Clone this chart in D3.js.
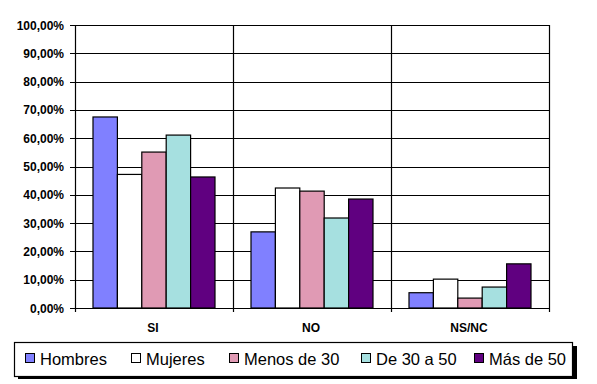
<!DOCTYPE html>
<html>
<head>
<meta charset="utf-8">
<script src="https://cdn.jsdelivr.net/npm/d3@7"></script>
<style>
  body { margin: 0; background: #fff; }
  svg { display: block; }
</style>
</head>
<body>
<script>
'use strict';
let categories = ["SI", "NO", "NS/NC"];
let series = ["Hombres", "Mujeres", "Menos de 30", "De 30 a 50", "Más de 50"];
let hombres = [67.5, 26.9, 5.4];
let mujeres = [47.2, 42.4, 10.2];
let menos30 = [55.1, 41.3, 3.5];
let de30a50 = [61.1, 31.8, 7.4];
let mas50 = [46.3, 38.5, 15.6];
let yTicks = [0, 10, 20, 30, 40, 50, 60, 70, 80, 90, 100];
let colors = ["#8080ff", "#ffffff", "#e09ab4", "#a6e0e0", "#600080"];

let values = [hombres, mujeres, menos30, de30a50, mas50];

let svg = d3.select("body").append("svg")
	.attr("width", 597)
	.attr("height", 384);

let plotLeft = 75, plotRight = 549, plotTop = 25, plotBottom = 308;

let x = d3.scaleBand().domain(categories).range([plotLeft, plotRight]);
let xs = d3.scaleBand().domain(series).range([18, x.bandwidth() - 18]);
let y = d3.scaleLinear().domain([0, 100]).range([plotBottom, plotTop]);

// horizontal gridlines with ticks
svg.selectAll("line.grid")
	.data(yTicks)
	.enter().append("line")
		.attr("x1", plotLeft - 5)
		.attr("x2", plotRight)
		.attr("y1", function(d){return Math.round(y(d)) + 0.5;})
		.attr("y2", function(d){return Math.round(y(d)) + 0.5;})
		.attr("stroke", "#000")
		.attr("stroke-width", 1.2);

// vertical separators
svg.selectAll("line.sep")
	.data([plotLeft, x("NO"), x("NS/NC"), plotRight])
	.enter().append("line")
		.attr("x1", function(d){return Math.round(d) + 0.5;})
		.attr("x2", function(d){return Math.round(d) + 0.5;})
		.attr("y1", plotTop)
		.attr("y2", plotBottom + 4)
		.attr("stroke", "#000")
		.attr("stroke-width", 1.2);

svg.selectAll("text.ylab")
	.data(yTicks)
	.enter().append("text")
		.attr("x", 64)
		.attr("y", function(d){return y(d) + 4.5;})
		.attr("text-anchor", "end")
		.attr("font-family", "Liberation Sans, Arial, sans-serif")
		.attr("font-weight", "bold")
		.attr("font-size", "12px")
		.text(function(d){return d3.format(".2f")(d).replace(".", ",") + "%";});

// bars
series.forEach(function(s, si){
	svg.selectAll("rect.s" + si)
		.data(values[si])
		.enter().append("rect")
			.attr("x", function(d,i){return x(categories[i]) + xs(s);})
			.attr("y", function(d){return y(d);})
			.attr("width", xs.bandwidth())
			.attr("height", function(d){return plotBottom - y(d);})
			.attr("fill", colors[si])
			.attr("stroke", "#000")
			.attr("stroke-width", 1.2);
});

svg.selectAll("text.xlab")
	.data(categories)
	.enter().append("text")
		.attr("x", function(d){return x(d) + x.bandwidth() / 2 - 1;})
		.attr("y", 332)
		.attr("text-anchor", "middle")
		.attr("font-family", "Liberation Sans, Arial, sans-serif")
		.attr("font-weight", "bold")
		.attr("font-size", "12px")
		.text(function(d){return d;});

// legend
svg.append("rect")
	.attr("x", 18).attr("y", 346).attr("width", 559).attr("height", 33)
	.attr("fill", "#000");
svg.append("rect")
	.attr("x", 14.5).attr("y", 342.5).attr("width", 558).attr("height", 34)
	.attr("fill", "#fff").attr("stroke", "#000").attr("stroke-width", 1.2);

let legendX = [25, 131, 229, 361, 474];
let lg = svg.selectAll("g.leg")
	.data(series)
	.enter().append("g")
		.attr("transform", function(d,i){return "translate(" + legendX[i] + ",0)";});
lg.append("rect")
	.attr("x", 0.5).attr("y", 353.5).attr("width", 9).attr("height", 9)
	.attr("fill", function(d,i){return colors[i];})
	.attr("stroke", "#000");
lg.append("text")
	.attr("x", 15)
	.attr("y", 364.5)
	.attr("font-family", "Liberation Sans, Arial, sans-serif")
	.attr("font-size", "16.5px")
	.text(function(d){return d;});
</script>
</body>
</html>
